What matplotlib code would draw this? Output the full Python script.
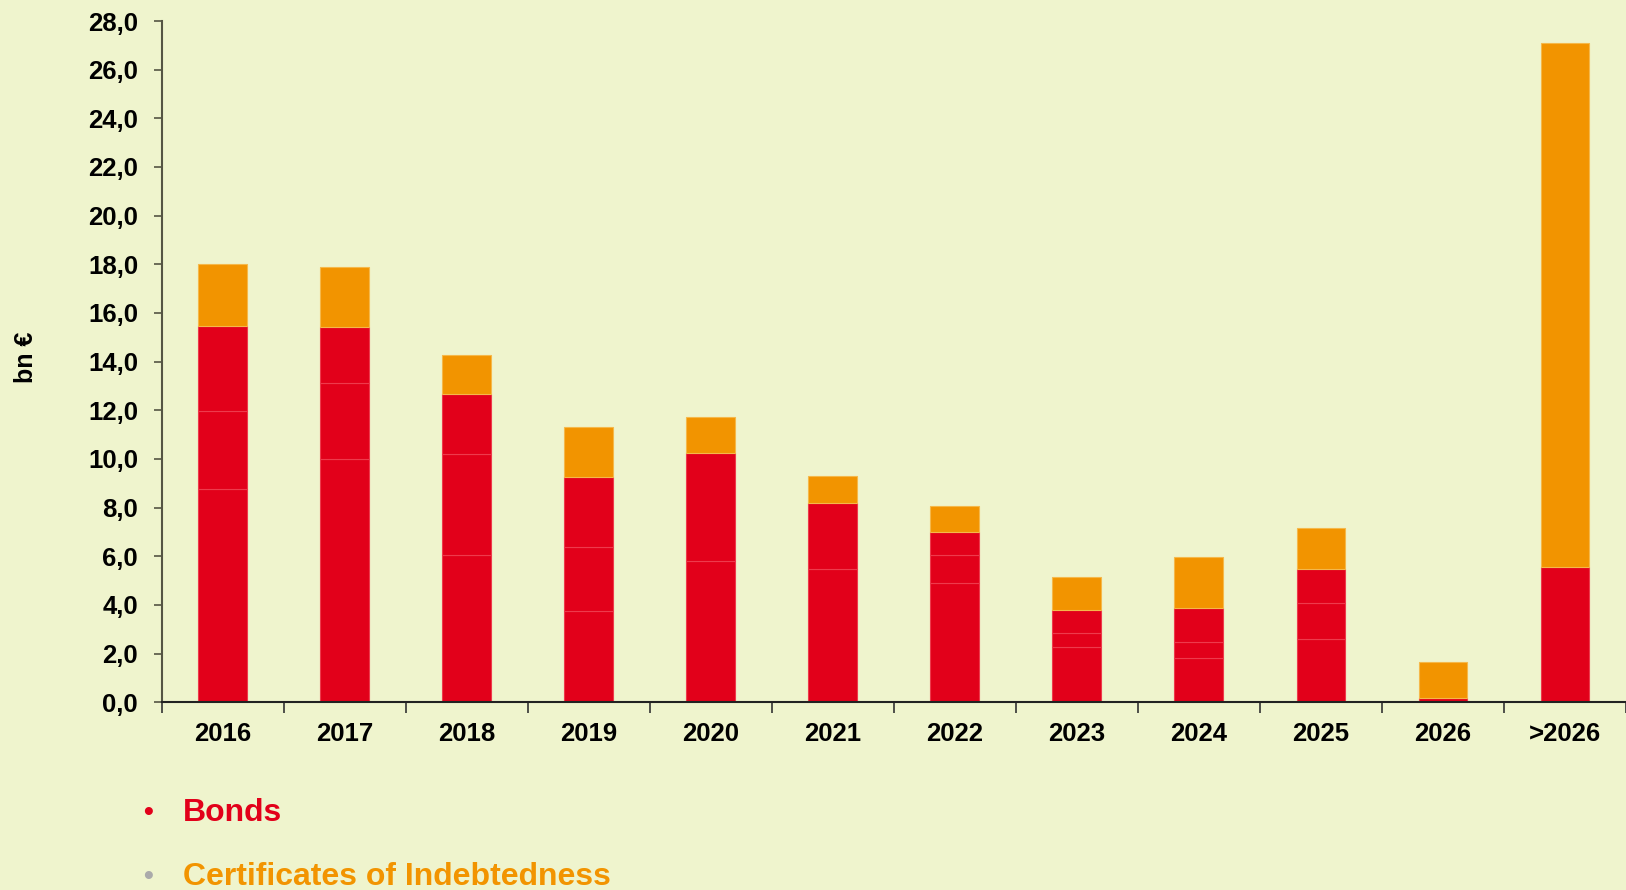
import numpy as np
import matplotlib
matplotlib.use('Agg')
import matplotlib.pyplot as plt

# 만기 연도
years = ['2016', '2017', '2018', '2019', '2020', '2021', '2022',
         '2023', '2024', '2025', '2026', '>2026']

# Bonds - 막대 안에 나뉘어 있는 조각들 (bn €)
bonds_a = [8.75, 9.99, 6.04, 3.74, 5.80, 5.47, 4.89, 2.29, 1.81, 2.59, 0.19, 5.57]
bonds_b = [3.21, 3.12, 4.15, 2.63, 4.46, 2.73, 1.15, 0.55, 0.66, 1.48, 0.0, 0.0]
bonds_c = [3.51, 2.30, 2.48, 2.90, 0.0, 0.0, 0.97, 0.95, 1.39, 1.40, 0.0, 0.0]

# Certificates of Indebtedness (bn €)
certificates = [2.54, 2.48, 1.62, 2.03, 1.47, 1.11, 1.05, 1.36, 2.11, 1.68, 1.47, 21.53]

yticks = np.arange(0, 28.1, 2)

bg = '#EFF4CD'
red = '#E2001A'
orange = '#F29400'

plt.rcParams['font.family'] = ['Liberation Sans', 'DejaVu Sans']
plt.rcParams['font.weight'] = 'bold'

fig = plt.figure(figsize=(16.26, 8.9), dpi=100, facecolor=bg)
ax = fig.add_axes([0.0994, 0.2109, 0.9006, 0.7655])
ax.set_facecolor(bg)

x = np.arange(len(years))
w = 0.4

# 빨간 조각들을 차례로 쌓기
bottom = np.zeros(len(years))
for seg in [bonds_a, bonds_b, bonds_c]:
    seg = np.array(seg)
    lw = np.where(seg > 0, 0.8, 0.0)
    ax.bar(x, seg, w, bottom=bottom, color=red, edgecolor='#EE3A4C', linewidth=lw, zorder=2)
    bottom = bottom + seg

# 주황색 (Certificates)
ax.bar(x, certificates, w, bottom=bottom, color=orange, edgecolor='#F5B84A', linewidth=0.8, zorder=2)

ax.set_xlim(-0.5, len(years) - 0.5)
ax.set_ylim(0, 28)

ax.set_yticks(yticks)
ax.set_yticklabels([('%.1f' % v).replace('.', ',') for v in yticks], fontsize=18.5, fontweight='bold')
ax.tick_params(axis='y', length=6, width=1.2, color='#555544', pad=11)

ax.set_xticks(x)
ax.set_xticklabels(years, fontsize=18.5, fontweight='bold')
ax.set_xticks(np.arange(-0.5, len(years), 1), minor=True)
ax.tick_params(axis='x', which='major', length=0, pad=14)
ax.tick_params(axis='x', which='minor', length=8, width=1.2, color='#333333')

for s in ['top', 'right']:
    ax.spines[s].set_visible(False)
ax.spines['left'].set_color('#555544')
ax.spines['left'].set_linewidth(1.5)
ax.spines['bottom'].set_color('#222222')
ax.spines['bottom'].set_linewidth(1.5)

# y축 이름
fig.text(0.016, 0.598, 'bn €', rotation=90, fontsize=18, fontweight='bold',
         ha='center', va='center')

# 아래쪽 범례 (글머리표 형식)
fig.text(0.091, 0.086, '•', fontsize=20, color=red, ha='center', va='center')
fig.text(0.1125, 0.086, 'Bonds', fontsize=23, fontweight='bold', color=red, va='center')
fig.text(0.091, 0.0145, '•', fontsize=20, color='#AAAAAA', ha='center', va='center')
fig.text(0.1125, 0.0145, 'Certificates of Indebtedness', fontsize=23, fontweight='bold',
         color=orange, va='center')

fig.savefig('out.png', dpi=100, facecolor=bg)
